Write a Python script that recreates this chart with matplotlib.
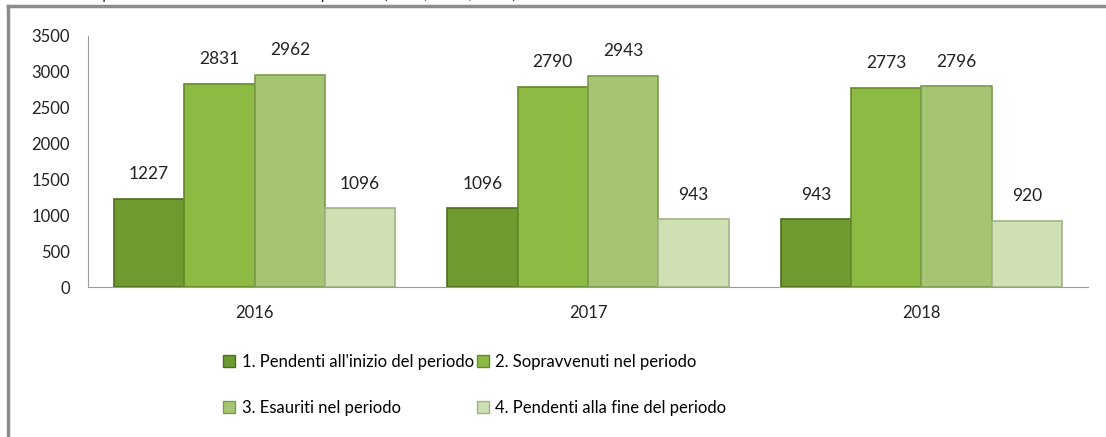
import matplotlib.pyplot as plt
import numpy as np
from matplotlib.lines import Line2D
from matplotlib.patches import Patch

years = ["2016", "2017", "2018"]
series_names = ["1. Pendenti all'inizio del periodo", "2. Sopravvenuti nel periodo",
                "3. Esauriti nel periodo", "4. Pendenti alla fine del periodo"]
pendenti_inizio = [1227, 1096, 943]
sopravvenuti = [2831, 2790, 2773]
esauriti = [2962, 2943, 2796]
pendenti_fine = [1096, 943, 920]

colors = ["#6f9a2f", "#8dba42", "#a5c572", "#cfe0b2"]
edges = ["#4e6e1e", "#66892a", "#7c9a4e", "#9fb383"]

plt.rcParams['font.family'] = ['Lato', 'DejaVu Sans']

fig = plt.figure(figsize=(11.06, 4.37), dpi=100)
ax = fig.add_axes([88/1106, 1 - 287/437, 1000/1106, 251/437])

series = [pendenti_inizio, sopravvenuti, esauriti, pendenti_fine]
x = np.arange(len(years))
w = 0.211
for i, vals in enumerate(series):
    pos = x + (i - 1.5) * w
    ax.bar(pos, vals, width=w, color=colors[i], edgecolor=edges[i], linewidth=1.2, zorder=2)
    for px, v in zip(pos, vals):
        ax.annotate(str(v), (px, v), xytext=(0, 12), textcoords="offset points",
                    ha="center", va="bottom", fontsize=12.5, color="#222222")

ax.set_xlim(-0.5, 2.5)
ax.set_ylim(0, 3500)
ax.set_yticks(range(0, 3501, 500))
ax.set_xticks(x)
ax.set_xticklabels(years)
ax.tick_params(axis="both", length=0, labelsize=12, colors="#222222")
ax.tick_params(axis="y", pad=13)
ax.tick_params(axis="x", pad=13)
for s in ["top", "right"]:
    ax.spines[s].set_visible(False)
ax.spines["left"].set_color("#9a9a9a")
ax.spines["bottom"].set_color("#9a9a9a")

# legend: row 1 -> series 1, 2 ; row 2 -> series 3, 4
handles = [Patch(facecolor=colors[i], edgecolor=edges[i]) for i in range(4)]
order = [0, 2, 1, 3]
fig.legend([handles[i] for i in order], [series_names[i] for i in order],
           ncol=2, loc="center", bbox_to_anchor=(475/1106, 1 - 385/437),
           frameon=False, fontsize=12, handlelength=0.7, handleheight=0.7,
           handletextpad=0.4, columnspacing=0.2, labelspacing=1.8)

# outer frame
fig.add_artist(Line2D([8/1106, 8/1106], [0, 1 - 6/437], color="#8c8c8c", lw=2.5))
fig.add_artist(Line2D([8/1106, 1], [1 - 6/437, 1 - 6/437], color="#8c8c8c", lw=2.5))

# caption above the frame, cropped at the top edge as in the source
fig.text(0.0, 1 + 1/437, "Movimento dei procedimenti nell'ultimo triennio per anno (2016, 2017, 2018)",
         fontsize=11.5, style="italic", va="baseline", ha="left", color="#222222")

fig.savefig("out.png", dpi=100)
